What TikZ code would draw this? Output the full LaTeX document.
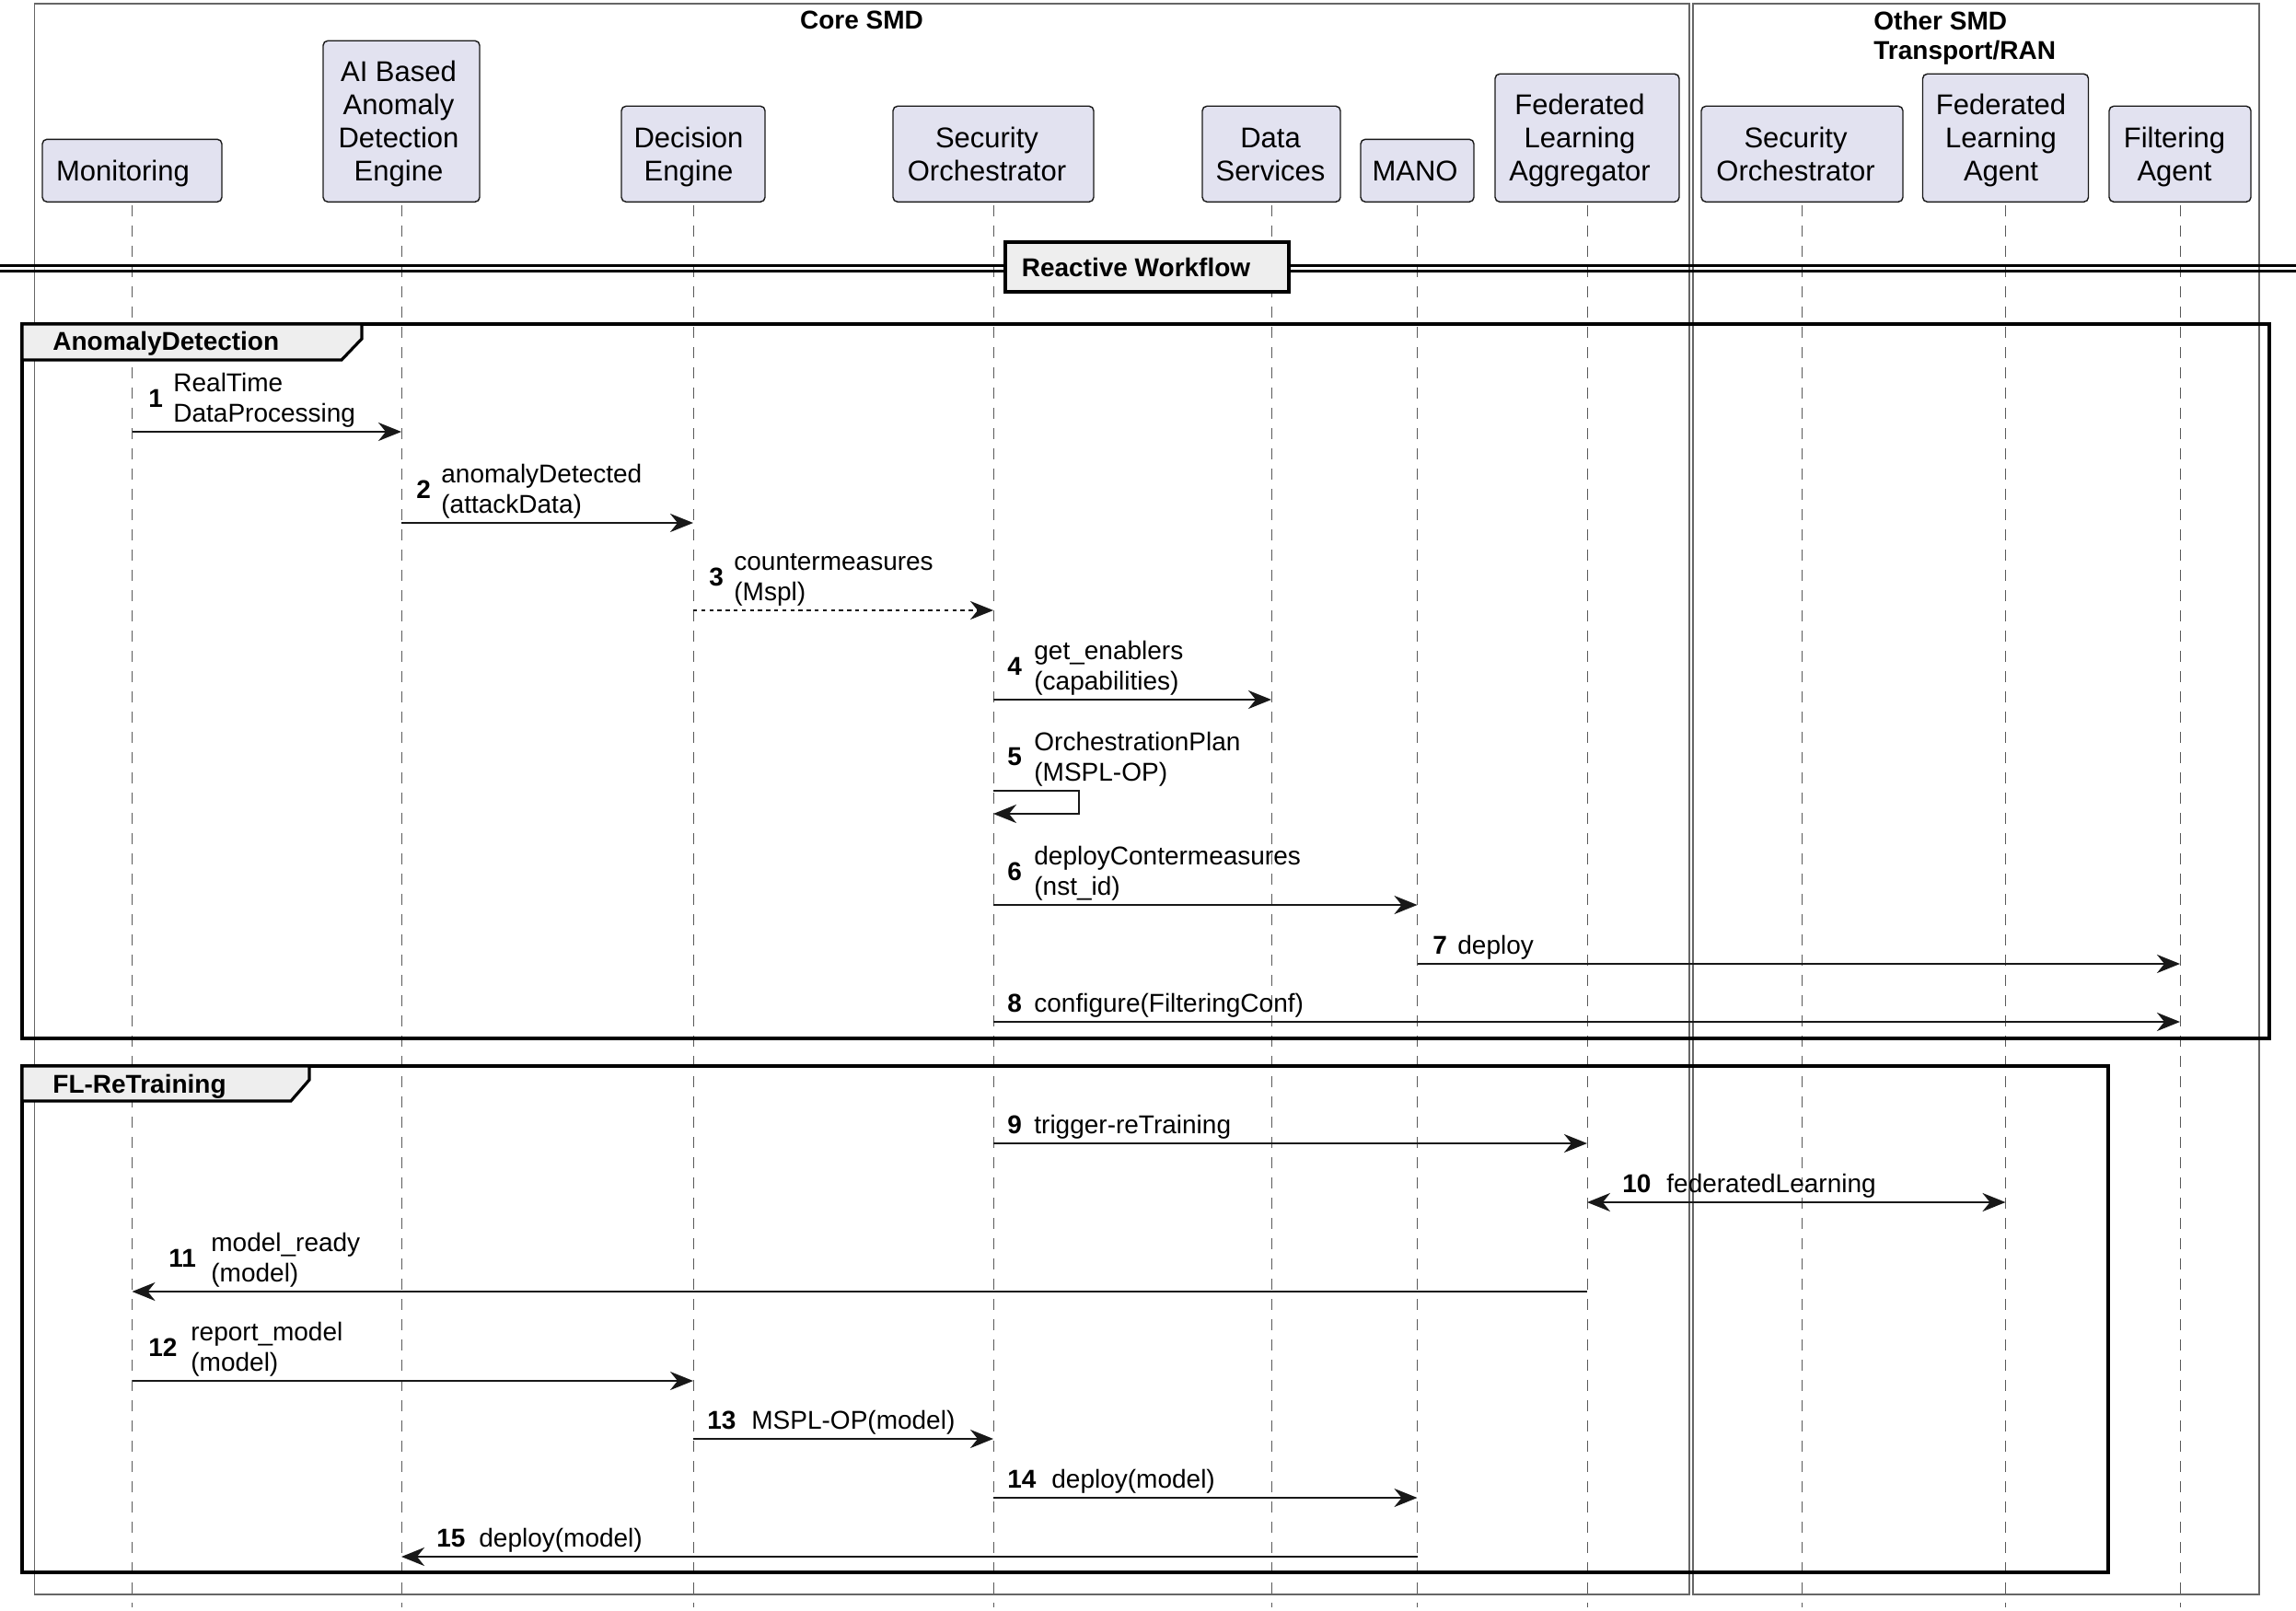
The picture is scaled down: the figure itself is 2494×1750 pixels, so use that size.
\documentclass[tikz,border=0pt]{standalone}
\usepackage{fontspec}
\setmainfont{Liberation Sans}
\usetikzlibrary{arrows.meta}
\definecolor{partfill}{HTML}{E2E2F0}
\definecolor{tabfill}{HTML}{EEEEEE}
\definecolor{ink}{HTML}{181818}
% participant text: #1 = height above last baseline, #2 = kern (shift left by half), #3 = lines
\newcommand\ptxt[3]{\raisebox{0pt}[#1][11.5pt]{\begin{tabular}[b]{@{}c@{}}#3\end{tabular}}\kern#2}
\begin{document}
\begin{tikzpicture}[x=0.5pt,y=-0.5pt,
  >={Stealth[length=12.5pt,width=10pt,inset=4pt]},
  part/.style={draw=ink, line width=0.7pt, fill=partfill, rounded corners=2.5pt, inner sep=0pt, anchor=south, font=\fontsize{15.5}{18}\selectfont},
  lifeline/.style={draw=black!65, line width=0.5pt, dash pattern=on 6pt off 5pt},
  outerbox/.style={draw=black!60, line width=0.6pt},
  frm/.style={draw=black, line width=1.6pt},
  tabshape/.style={draw=black, line width=1.6pt, fill=tabfill},
  frmlabel/.style={font=\bfseries\fontsize{14}{16}\selectfont, anchor=base west, inner sep=0pt},
  msg/.style={->, line width=1.3pt, draw=ink},
  num/.style={font=\bfseries\fontsize{14}{16.7}\selectfont, inner sep=0pt, anchor=base west},
  txt/.style={font=\fontsize{14}{16.7}\selectfont, inner sep=0pt, align=left},
]
\fill[white] (0,0) rectangle (2494,1750);
\useasboundingbox (0,0) rectangle (2494,1750);

% outer boxes
\draw[outerbox] (37.5,4) rectangle (1835,1732);
\draw[outerbox] (1839,4) rectangle (2454,1732);
\node[font=\bfseries\fontsize{14}{16}\selectfont, anchor=base, inner sep=0pt] (core) at (936,32) {Core SMD};
\node[font=\bfseries\fontsize{14}{16}\selectfont, anchor=north west, inner sep=0pt, align=left] (other) at (2035,11.5) {Other SMD\\Transport/RAN};

% participants
\node[part, minimum width=97.5pt] (mon) at (143.5,220) {\ptxt{22.5pt}{10pt}{Monitoring}};
\node[part, minimum width=85pt] (ai) at (436,220) {\ptxt{76pt}{3pt}{AI Based\\Anomaly\\Detection\\Engine}};
\node[part, minimum width=78pt] (dec) at (753,220) {\ptxt{40.5pt}{5pt}{Decision\\Engine}};
\node[part, minimum width=109pt] (so) at (1079,220) {\ptxt{40.5pt}{7pt}{Security\\Orchestrator}};
\node[part, minimum width=75pt] (ds) at (1381,220) {\ptxt{40.5pt}{1pt}{Data\\Services}};
\node[part, minimum width=61.5pt] (mano) at (1539.5,220) {\ptxt{22.5pt}{2.5pt}{MANO}};
\node[part, minimum width=100pt] (fla) at (1724,220) {\ptxt{58pt}{8pt}{Federated\\Learning\\Aggregator}};
\node[part, minimum width=109.5pt] (oso) at (1957.5,220) {\ptxt{40.5pt}{7pt}{Security\\Orchestrator}};
\node[part, minimum width=90pt] (flag) at (2178.5,220) {\ptxt{58pt}{5pt}{Federated\\Learning\\Agent}};
\node[part, minimum width=77pt] (filt) at (2368,220) {\ptxt{40.5pt}{6pt}{Filtering\\Agent}};

% lifelines
\coordinate (bot) at (0,1746);
\foreach \p in {mon,ai,dec,so,ds,mano,fla,oso,flag,filt}{
  \draw[lifeline] ([yshift=-1.5pt]\p.south) -- (\p.south |- bot);
}

% divider
\draw[line width=1.3pt] (0,288.6) -- (2494,288.6);
\draw[line width=1.3pt] (0,294.3) -- (2494,294.3);
\node[draw=black, line width=1.6pt, fill=tabfill, minimum width=154pt, minimum height=27pt, inner sep=0pt, font=\bfseries\fontsize{14}{16}\selectfont] (rw) at (1246,290) {Reactive Workflow\kern12pt};

% frames
\draw[frm] (24,352) rectangle (2465,1128);
\draw[tabshape] (24,352) -- (393,352) -- (393,368) -- (371,391) -- (24,391) -- cycle;
\node[frmlabel] (fad) at (57,380) {AnomalyDetection};
\draw[frm] (24,1158) rectangle (2290,1708);
\draw[tabshape] (24,1158) -- (336,1158) -- (336,1173) -- (316,1196) -- (24,1196) -- cycle;
\node[frmlabel] (ffl) at (57,1187) {FL-ReTraining};

% message rows
\coordinate (r1) at (0,469);
\coordinate (r2) at (0,568);
\coordinate (r3) at (0,663);
\coordinate (r4) at (0,760);
\coordinate (s5a) at (1172,859);
\coordinate (s5b) at (1172,884);
\coordinate (r6) at (0,983);
\coordinate (r7) at (0,1047);
\coordinate (r8) at (0,1110);
\coordinate (r9) at (0,1242);
\coordinate (r10) at (0,1306);
\coordinate (r11) at (0,1403);
\coordinate (r12) at (0,1500);
\coordinate (r13) at (0,1563);
\coordinate (r14) at (0,1627);
\coordinate (r15) at (0,1691);

% 1
\draw[msg] (mon |- r1) -- (ai |- r1);
\node[num] (n1) at (161,442) {1};
\node[txt, anchor=south west] (t1) at (188,465) {RealTime\\DataProcessing};
% 2
\draw[msg] (ai |- r2) -- (dec |- r2);
\node[num] (n2) at (452,541) {2};
\node[txt, anchor=south west] (t2) at (479,564) {anomalyDetected\\(attackData)};
% 3
\draw[msg, dash pattern=on 2.2pt off 2.2pt] (dec |- r3) -- (so |- r3);
\node[num] (n3) at (770,636) {3};
\node[txt, anchor=south west] (t3) at (797,659) {countermeasures\\(Mspl)};
% 4
\draw[msg] (so |- r4) -- (ds |- r4);
\node[num] (n4) at (1094,733) {4};
\node[txt, anchor=south west] (t4) at (1123,756) {get\_enablers\\(capabilities)};
% 5
\draw[msg] (so |- s5a) -- (s5a) -- (s5b) -- (so |- s5b);
\node[num] (n5) at (1094,831) {5};
\node[txt, anchor=south west] (t5) at (1123,855) {OrchestrationPlan\\(MSPL-OP)};
% 6
\draw[msg] (so |- r6) -- (mano |- r6);
\node[num] (n6) at (1094,956) {6};
\node[txt, anchor=south west] (t6) at (1123,979) {deployContermeasures\\(nst\_id)};
% 7
\draw[msg] (mano |- r7) -- (filt |- r7);
\node[num] (n7) at (1556,1036) {7};
\node[txt, anchor=base west] (t7) at (1583,1036) {deploy};
% 8
\draw[msg] (so |- r8) -- (filt |- r8);
\node[num] (n8) at (1094,1099) {8};
\node[txt, anchor=base west] (t8) at (1123,1099) {configure(FilteringConf)};
% 9
\draw[msg] (so |- r9) -- (fla |- r9);
\node[num] (n9) at (1094,1231) {9};
\node[txt, anchor=base west] (t9) at (1123,1231) {trigger-reTraining};
% 10
\draw[msg, <->] (fla |- r10) -- (flag |- r10);
\node[num] (n10) at (1762,1295) {10};
\node[txt, anchor=base west] (t10) at (1810,1295) {federatedLearning};
% 11
\draw[msg] (fla |- r11) -- (mon |- r11);
\node[num] (n11) at (183,1376) {11};
\node[txt, anchor=south west] (t11) at (229,1399) {model\_ready\\(model)};
% 12
\draw[msg] (mon |- r12) -- (dec |- r12);
\node[num] (n12) at (161,1473) {12};
\node[txt, anchor=south west] (t12) at (207,1496) {report\_model\\(model)};
% 13
\draw[msg] (dec |- r13) -- (so |- r13);
\node[num] (n13) at (768,1552) {13};
\node[txt, anchor=base west] (t13) at (816,1552) {MSPL-OP(model)};
% 14
\draw[msg] (so |- r14) -- (mano |- r14);
\node[num] (n14) at (1094,1616) {14};
\node[txt, anchor=base west] (t14) at (1142,1616) {deploy(model)};
% 15
\draw[msg] (mano |- r15) -- (ai |- r15);
\node[num] (n15) at (474,1680) {15};
\node[txt, anchor=base west] (t15) at (520,1680) {deploy(model)};
\end{tikzpicture}
\end{document}
